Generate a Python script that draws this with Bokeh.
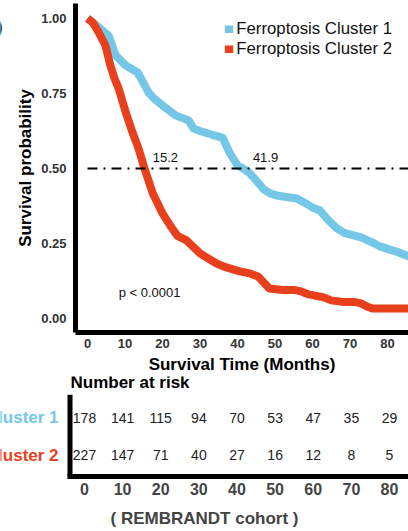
from bokeh.plotting import figure
from bokeh.layouts import column, row
from bokeh.models import (Range1d, FixedTicker, PrintfTickFormatter, Legend, LegendItem,
                          ColumnDataSource)
from bokeh.core.properties import value
from bokeh.embed import file_html
from bokeh.resources import INLINE

FONT = "Liberation Sans"
BLUE = "#74C7E6"
RED = "#E8401C"

# ---- data ----
cluster1_time = [0, 2, 4, 5.6, 7.5, 10.2, 13.4, 16.3, 18, 20, 23.5, 27, 28.3, 30, 33, 36,
                 38, 40, 41.5, 43, 45, 47, 48.7, 50.5, 53, 55.8, 58, 60, 62, 64, 66.5,
                 68.5, 70.9, 73, 76, 78, 80, 83, 86]
cluster1_surv = [1.0, 0.98, 0.96, 0.943, 0.877, 0.843, 0.82, 0.753, 0.73, 0.71, 0.677, 0.66,
                 0.633, 0.625, 0.613, 0.603, 0.55, 0.51, 0.50, 0.487, 0.46, 0.43, 0.417,
                 0.41, 0.405, 0.40, 0.385, 0.37, 0.36, 0.33, 0.30, 0.285, 0.277, 0.27,
                 0.253, 0.24, 0.232, 0.22, 0.205]

cluster2_time = [0, 1.5, 3, 4.8, 6.1, 7.2, 8.3, 10.2, 12, 13.6, 15.2, 17.4, 20, 22.4, 24,
                 26.4, 30, 34.4, 37, 40.6, 43.3, 45.5, 47, 48.5, 52, 55, 57, 59, 61, 63,
                 65, 68, 71, 73, 74.5, 76, 80, 86]
cluster2_surv = [1.0, 0.985, 0.953, 0.91, 0.843, 0.80, 0.767, 0.687, 0.62, 0.567, 0.50,
                 0.417, 0.35, 0.303, 0.275, 0.26, 0.217, 0.183, 0.17, 0.157, 0.15, 0.14,
                 0.12, 0.10, 0.095, 0.095, 0.09, 0.08, 0.075, 0.07, 0.06, 0.055, 0.055,
                 0.05, 0.04, 0.033, 0.033, 0.033]

median_level = 0.5
median_times = [15.2, 41.9]
p_value_text = "p < 0.0001"

x_ticks = [0, 10, 20, 30, 40, 50, 60, 70, 80]
y_ticks = [0.0, 0.25, 0.5, 0.75, 1.0]

risk_times = [0, 10, 20, 30, 40, 50, 60, 70, 80]
risk_cluster1 = [178, 141, 115, 94, 70, 53, 47, 35, 29]
risk_cluster2 = [227, 147, 71, 40, 27, 16, 12, 8, 5]
group_names = ["Ferroptosis Cluster 1", "Ferroptosis Cluster 2"]
row_names = ["Cluster 1", "Cluster 2"]
table_title = "Number at risk"
panel_tag = ")"

TOP_H = 376

# ---- narrow strip holding the cropped panel tag ----
strip = figure(width=8, height=TOP_H, x_range=Range1d(0, 1), y_range=Range1d(0, 1),
               output_backend="svg", toolbar_location=None,
               min_border_left=0, min_border_right=0, min_border_top=0, min_border_bottom=0)
strip.axis.visible = False
strip.grid.visible = False
strip.outline_line_color = None
strip.text(x=[-0.6], y=[0.93], text=[panel_tag], text_font=value(FONT), text_font_size="21px",
           text_font_style="bold", text_baseline="middle", text_align="left", text_color="black")

# ---- main KM plot ----
p = figure(width=400, height=TOP_H, x_range=Range1d(-3.2, 85.6), y_range=Range1d(-0.047, 1.05),
           output_backend="svg", toolbar_location=None,
           min_border_left=67, min_border_right=0, min_border_top=3, min_border_bottom=44)
p.outline_line_color = None
p.xgrid.visible = False
p.ygrid.visible = False

r1 = p.line(cluster1_time, cluster1_surv, line_color=BLUE, line_width=8, line_join="round")
r2 = p.line(cluster2_time, cluster2_surv, line_color=RED, line_width=8, line_join="round")

p.line([0, 90], [median_level, median_level], line_color="black", line_width=2,
       line_dash="10 6 2 6")
p.text(x=[t + 2.2 for t in median_times], y=[median_level + 0.02] * 2,
       text=[f"{t:.1f}" for t in median_times], text_font=value(FONT),
       text_font_size="13px", text_baseline="bottom", text_align="left", text_color="#111")
p.text(x=[8.3], y=[0.087], text=[p_value_text], text_font=value(FONT), text_font_size="13px",
       text_baseline="middle", text_align="left", text_color="#111")

for ax in (p.xaxis[0], p.yaxis[0]):
    ax.axis_line_width = 5
    ax.axis_line_color = "black"
    ax.major_tick_line_color = None
    ax.minor_tick_line_color = None
    ax.major_tick_out = 0
    ax.major_tick_in = 0
    ax.major_label_text_font = FONT
    ax.major_label_text_font_style = "bold"
    ax.major_label_text_color = "#333333"
    ax.major_label_text_font_size = "13px"
    ax.axis_label_text_font = FONT
    ax.axis_label_text_font_style = "bold"
    ax.axis_label_text_font_size = "17px"
    ax.axis_label_text_color = "black"

p.xaxis.ticker = FixedTicker(ticks=x_ticks)
p.xaxis.major_label_standoff = 6
p.xaxis.axis_label = "Survival Time (Months)"
p.xaxis.axis_label_standoff = 4

p.yaxis.ticker = FixedTicker(ticks=y_ticks)
p.yaxis.formatter = PrintfTickFormatter(format="%.2f")
p.yaxis.major_label_standoff = 9
p.yaxis.axis_label = "Survival probability"
p.yaxis.axis_label_standoff = 3

legend = Legend(items=[LegendItem(label=group_names[0], renderers=[r1]),
                       LegendItem(label=group_names[1], renderers=[r2])],
                location="top_right", margin=16, padding=0, spacing=-4,
                glyph_width=9, glyph_height=8, label_standoff=3,
                label_text_font=FONT, label_text_font_size="16.8px", label_text_color="#111",
                border_line_color=None, background_fill_alpha=0)
p.add_layout(legend)

# ---- risk table (frame spans the full width and height above the axis) ----
t = figure(width=408, height=531 - TOP_H, x_range=Range1d(-22.03, 84.98),
           y_range=Range1d(0.432, 3.108),
           output_backend="svg", toolbar_location=None,
           min_border_left=0, min_border_right=0, min_border_top=0, min_border_bottom=55)
t.outline_line_color = None
t.xgrid.visible = False
t.ygrid.visible = False
t.yaxis.visible = False

t.text(x=[-3.67], y=[2.955], text=[table_title], text_font=value(FONT), text_font_size="17px",
       text_font_style="bold", text_align="left", text_baseline="middle", text_color="black")

src = ColumnDataSource(dict(x=risk_times + risk_times,
                            y=[2] * len(risk_times) + [1] * len(risk_times),
                            txt=[str(v) for v in risk_cluster1 + risk_cluster2]))
t.text(x="x", y="y", text="txt", source=src, text_font=value(FONT), text_font_size="14px",
       text_align="center", text_baseline="middle", text_color="#222222")

t.text(x=[-6.8, -6.8], y=[2, 1], text=row_names, text_font=value(FONT), text_font_size="17px",
       text_font_style="bold", text_align="right", text_baseline="middle",
       text_color=[BLUE, RED])

# left rule of the table
t.segment(x0=[-3.8], y0=[0.3], x1=[-3.8], y1=[2.62], line_color="black", line_width=5)

ax = t.xaxis[0]
ax.bounds = (-4.45, 95)
ax.axis_line_width = 5
ax.axis_line_color = "black"
ax.major_tick_line_color = None
ax.minor_tick_line_color = None
ax.major_tick_out = 0
ax.major_tick_in = 0
ax.ticker = FixedTicker(ticks=risk_times)
ax.major_label_text_font = FONT
ax.major_label_text_font_style = "bold"
ax.major_label_text_font_size = "16px"
ax.major_label_text_color = "#444444"
ax.major_label_standoff = 6
ax.axis_label = "( REMBRANDT cohort )"
ax.axis_label_text_font = FONT
ax.axis_label_text_font_style = "bold"
ax.axis_label_text_font_size = "17px"
ax.axis_label_standoff = 11

layout = column(row(strip, p, spacing=0), t, spacing=0)
open("out.html", "w").write(file_html(layout, INLINE))
